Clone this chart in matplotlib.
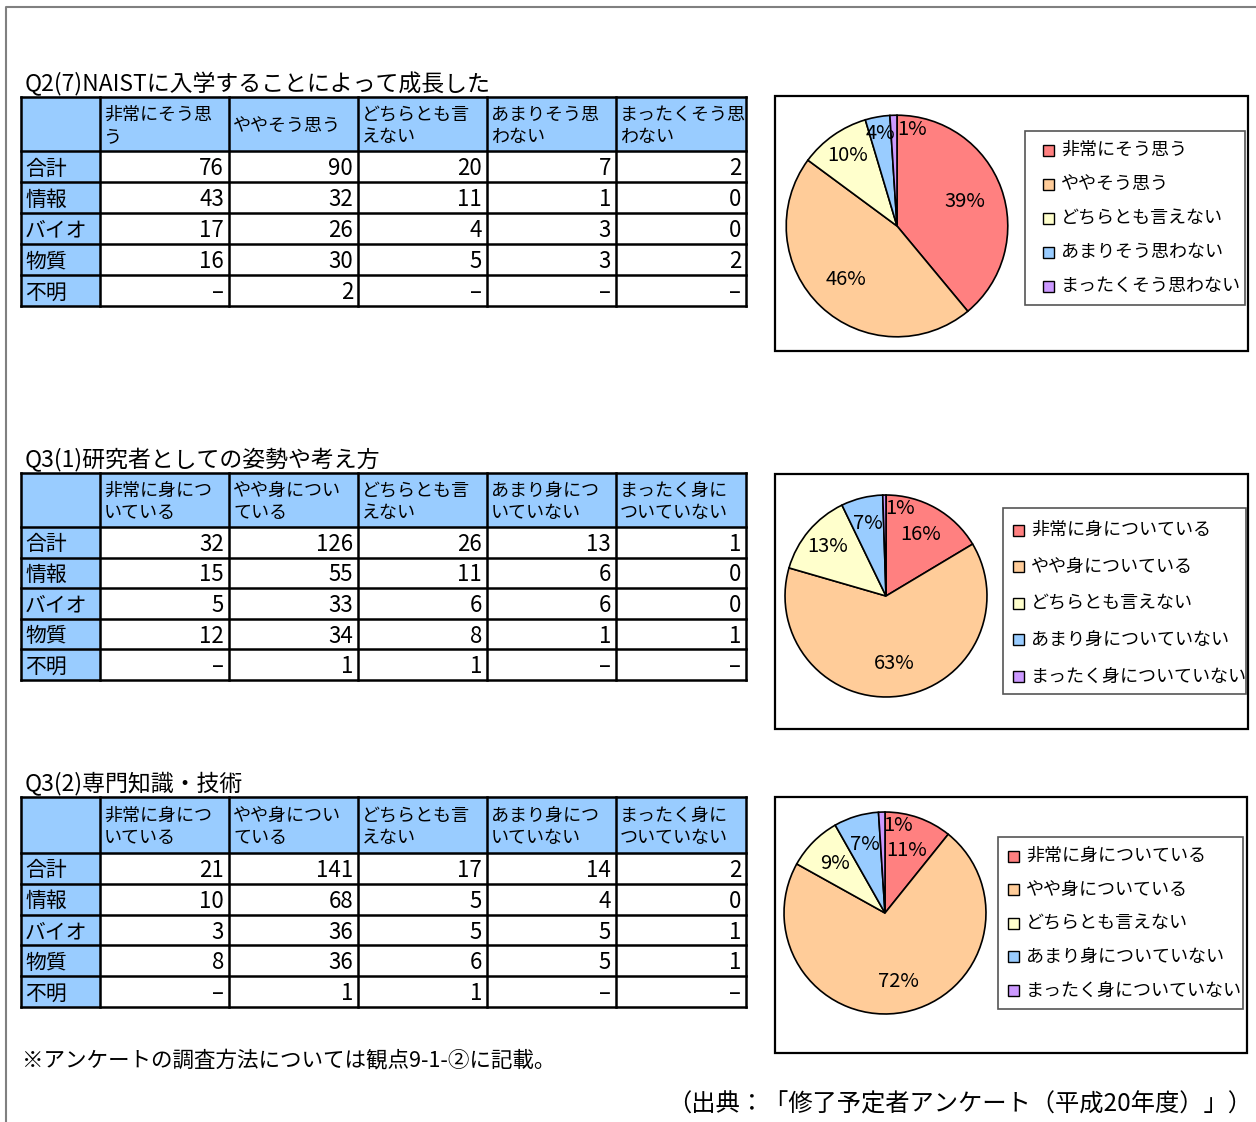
import matplotlib
matplotlib.use("Agg")
import matplotlib.pyplot as plt
from matplotlib.patches import Rectangle
import numpy as np

plt.rcParams['font.family'] = ['Noto Sans CJK JP', 'DejaVu Sans']

W, H = 1256, 1122

# ---- data ----
rows = ['合計', '情報', 'バイオ', '物質', '不明']

q27_title = 'Q2(7)NAISTに入学することによって成長した'
q27_head = ['非常にそう思\nう', 'ややそう思う', 'どちらとも言\nえない', 'あまりそう思\nわない', 'まったくそう思\nわない']
q27_legend = ['非常にそう思う', 'ややそう思う', 'どちらとも言えない', 'あまりそう思わない', 'まったくそう思わない']
q27_vals = [
    [76, 90, 20, 7, 2],
    [43, 32, 11, 1, 0],
    [17, 26, 4, 3, 0],
    [16, 30, 5, 3, 2],
    [None, 2, None, None, None],
]

q31_title = 'Q3(1)研究者としての姿勢や考え方'
q3_head = ['非常に身につ\nいている', 'やや身につい\nている', 'どちらとも言\nえない', 'あまり身につ\nいていない', 'まったく身に\nついていない']
q3_legend = ['非常に身についている', 'やや身についている', 'どちらとも言えない', 'あまり身についていない', 'まったく身についていない']
q31_vals = [
    [32, 126, 26, 13, 1],
    [15, 55, 11, 6, 0],
    [5, 33, 6, 6, 0],
    [12, 34, 8, 1, 1],
    [None, 1, 1, None, None],
]

q32_title = 'Q3(2)専門知識・技術'
q32_vals = [
    [21, 141, 17, 14, 2],
    [10, 68, 5, 4, 0],
    [3, 36, 5, 5, 1],
    [8, 36, 6, 5, 1],
    [None, 1, 1, None, None],
]

note = '※アンケートの調査方法については観点9-1-②に記載。'
source = '（出典：「修了予定者アンケート（平成20年度）」）'

colors = ['#FF8080', '#FFCC99', '#FFFFCC', '#99CCFF', '#CC99FF']
head_blue = '#99CCFF'

fig = plt.figure(figsize=(W / 100, H / 100), dpi=100)
page = fig.add_axes([0, 0, 1, 1])
page.set_xlim(0, W)
page.set_ylim(H, 0)
page.axis('off')

# page frame
page.plot([6, 6, W], [H, 7, 7], color='#808080', lw=1.5)

col_x = [21, 100, 229, 358, 487, 616, 746]


def draw_table(top, head_h, row_h, title, head, vals):
    page.text(col_x[0] + 4, top - 1, title, fontsize=16.5, va='bottom', ha='left')
    ys = [top, top + head_h] + [top + head_h + row_h * (i + 1) for i in range(len(rows))]
    bottom = ys[-1]
    # blue header row and row-label column
    page.add_patch(Rectangle((col_x[0], top), col_x[-1] - col_x[0], head_h, color=head_blue, zorder=1))
    page.add_patch(Rectangle((col_x[0], top), col_x[1] - col_x[0], bottom - top, color=head_blue, zorder=1))
    for y in ys:
        page.plot([col_x[0], col_x[-1]], [y, y], color='black', lw=1.8, zorder=3)
    for x in col_x:
        page.plot([x, x], [top, bottom], color='black', lw=1.8, zorder=3)
    for j, h in enumerate(head):
        page.text(col_x[j + 1] + 4, top + head_h / 2 + 2, h, fontsize=13,
                  va='center', ha='left', linespacing=1.3)
    for i, r in enumerate(rows):
        yc = ys[i + 1] + row_h / 2 + 2
        page.text(col_x[0] + 4, yc, r, fontsize=15, va='center', ha='left')
        for j, v in enumerate(vals[i]):
            s = '–' if v is None else str(v)
            page.text(col_x[j + 2] - 5, yc, s, fontsize=16, va='center', ha='right')


def draw_pie(box, cx, cy, r, vals, labels, legbox, leg_y0, leg_dy, mx, dist, nudge):
    bx0, by0, bx1, by1 = box
    page.add_patch(Rectangle((bx0, by0), bx1 - bx0, by1 - by0, fill=False, ec='black', lw=1.6))
    # pie values: sum of department rows
    tot = [sum(row[k] or 0 for row in vals[1:]) for k in range(5)]
    ax = fig.add_axes([(cx - r) / W, 1 - (cy + r) / H, 2 * r / W, 2 * r / H])
    wedges, _ = ax.pie(tot, colors=colors, startangle=90, counterclock=False,
                       wedgeprops=dict(edgecolor='black', linewidth=1.2))
    ax.set_xlim(-1.02, 1.02)
    ax.set_ylim(-1.02, 1.02)
    ax.axis('off')
    s = sum(tot)
    for k, w in enumerate(wedges):
        ang = np.deg2rad((w.theta1 + w.theta2) / 2 - nudge[k])
        ax.text(dist[k] * np.cos(ang), dist[k] * np.sin(ang), f'{tot[k] / s * 100:.0f}%',
                fontsize=14.5, ha='center', va='center')
    lx0, ly0, lx1, ly1 = legbox
    page.add_patch(Rectangle((lx0, ly0), lx1 - lx0, ly1 - ly0, fill=False, ec='#555555', lw=1.2))
    for k, lab in enumerate(labels):
        y = leg_y0 + k * leg_dy
        page.add_patch(Rectangle((mx, y - 5.5), 11, 11, fc=colors[k], ec='black', lw=1.0))
        page.text(mx + 18, y, lab, fontsize=13, va='center', ha='left')


draw_table(97, 54, 31, q27_title, q27_head, q27_vals)
draw_table(473, 54, 30.6, q31_title, q3_head, q31_vals)
draw_table(797, 56, 30.8, q32_title, q3_head, q32_vals)

draw_pie((775, 96, 1248, 351), 897, 226, 113, q27_vals, q27_legend,
         (1025, 131, 1245, 305), 150, 34, 1043,
         [0.65, 0.67, 0.78, 0.85, 0.88], [0, 0, 0, 0, 11])
draw_pie((775, 474, 1248, 729), 886, 596, 103, q31_vals, q3_legend,
         (1003, 508, 1246, 694), 530, 36.6, 1013,
         [0.70, 0.67, 0.76, 0.74, 0.88], [0, 0, 0, 0, 10])
draw_pie((775, 797, 1247, 1053), 885, 913, 103, q32_vals, q3_legend,
         (998, 837, 1243, 1009), 856, 33.6, 1008,
         [0.66, 0.69, 0.70, 0.71, 0.88], [0, 0, 0, 0, 10])

page.text(22, 1060, note, fontsize=15.5, va='center', ha='left')
page.text(1252, 1105, source, fontsize=17.5, va='center', ha='right')

fig.savefig('out.png', dpi=100)
